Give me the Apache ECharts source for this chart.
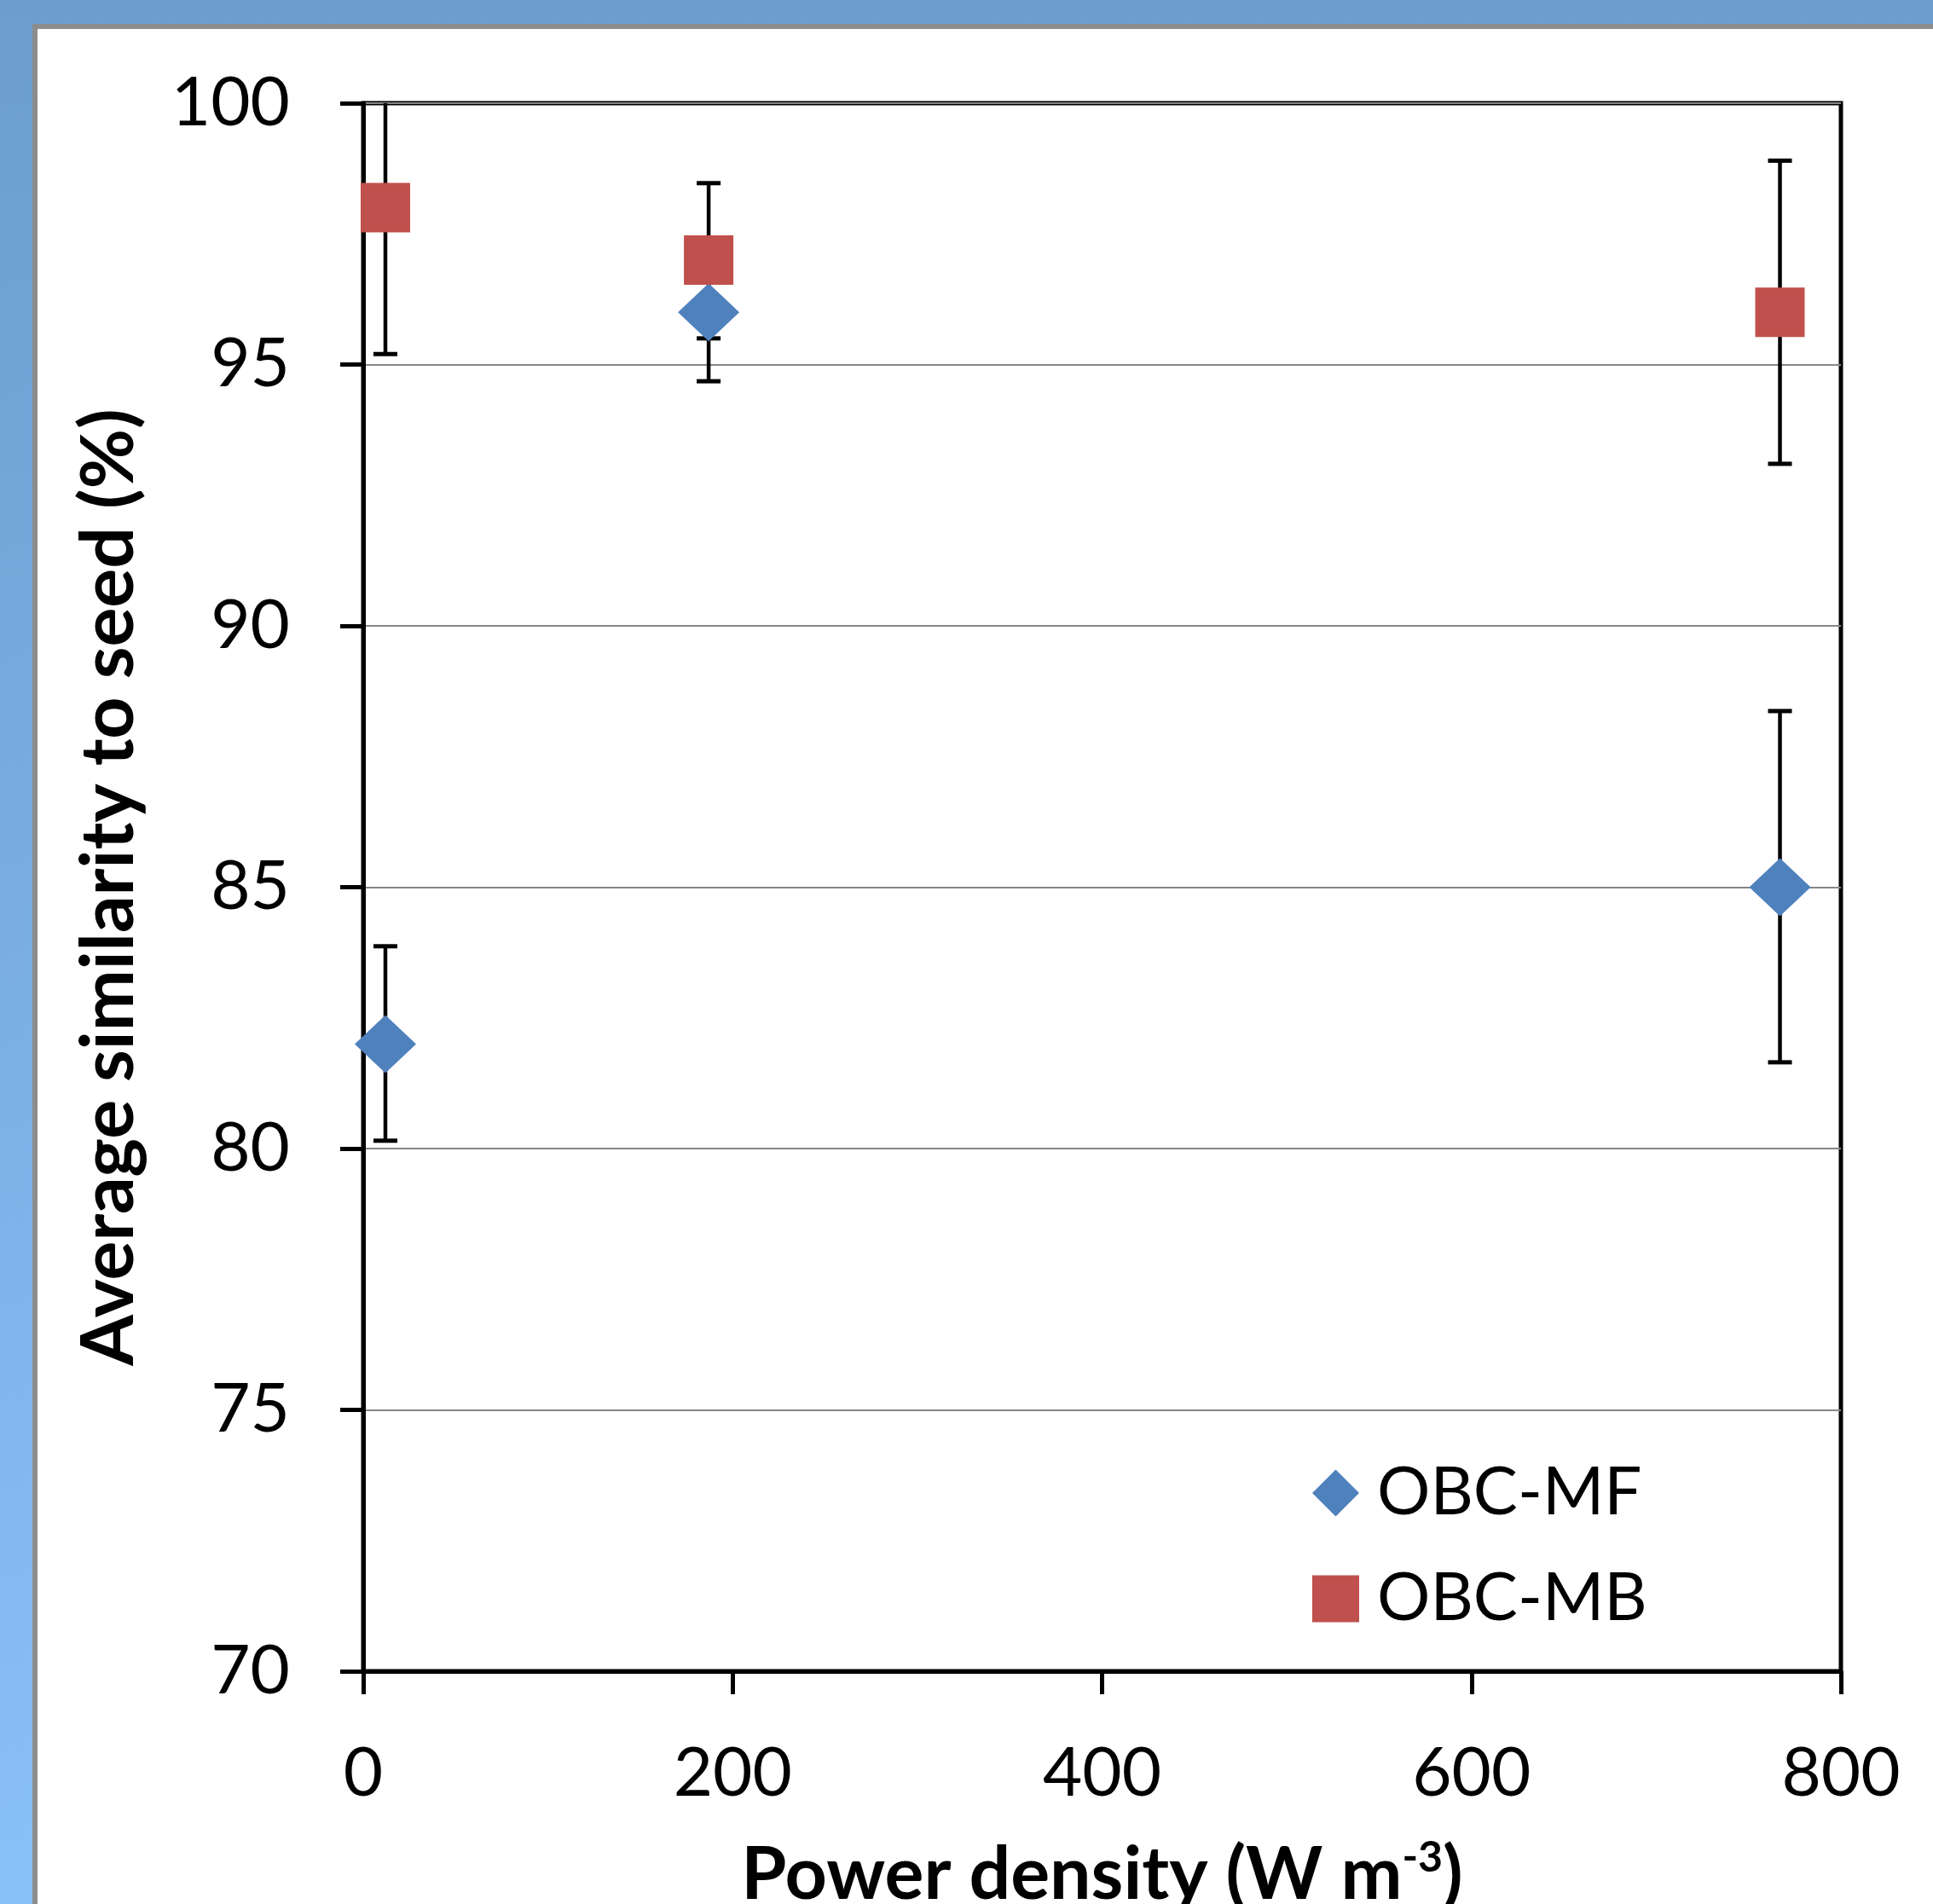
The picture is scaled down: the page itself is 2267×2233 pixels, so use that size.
<!DOCTYPE html>
<html>
<head>
<meta charset="utf-8">
<title>Average similarity to seed</title>
<script src="https://cdn.jsdelivr.net/npm/echarts@6/dist/echarts.min.js"></script>
<style>
    html, body { margin: 0; padding: 0; width: 2267px; height: 2233px; overflow: hidden; }
    body { background: linear-gradient(to bottom, #6c9dce, #88c0f8); position: relative; }
    #panel { position: absolute; left: 38px; top: 28px; width: 2240px; height: 2300px; background: #fff; border: 6px solid #8c8c8c; }
    #chart { position: absolute; left: 0; top: 0; width: 2267px; height: 2233px; }
</style>
</head>
<body>
<div id="panel"></div>
<div id="chart"></div>
<script>
// 横轴：功率密度 (W m-3)
const powerDensity = [12, 187, 767];

// OBC-MF 平均值和误差范围
const mfValues = [82, 96, 85];
const mfLow = [80.15, 94.68, 81.65];
const mfHigh = [83.87, 97.32, 88.37];

// OBC-MB 平均值和误差范围
const mbValues = [98, 97, 96];
const mbLow = [95.2, 95.5, 93.1];
const mbHigh = [100.8, 98.47, 98.9];

const FONT = 'Lato';

// 组合数据
function points(xs, ys) {
    return xs.map((x, i) => [x, ys[i]]);
}
function errorData(xs, lo, hi) {
    return xs.map((x, i) => [x, lo[i], hi[i]]);
}

// 误差线绘制
function renderErrorBar(params, api) {
    const x = api.value(0);
    const lo = api.coord([x, api.value(1)]);
    const hi = api.coord([x, api.value(2)]);
    const half = 14;
    return {
        type: 'group',
        children: [
            { type: 'line', shape: { x1: lo[0], y1: lo[1], x2: hi[0], y2: hi[1] }, style: { stroke: '#000', lineWidth: 4.5 } },
            { type: 'line', shape: { x1: lo[0] - half, y1: lo[1], x2: lo[0] + half, y2: lo[1] }, style: { stroke: '#000', lineWidth: 5 } },
            { type: 'line', shape: { x1: hi[0] - half, y1: hi[1], x2: hi[0] + half, y2: hi[1] }, style: { stroke: '#000', lineWidth: 5 } }
        ]
    };
}

const chart = echarts.init(document.getElementById('chart'));

const option = {
    animation: false,
    textStyle: { fontFamily: FONT },
    grid: {
        left: 426,
        top: 121,
        right: 108,
        bottom: 273,
        outerBoundsMode: 'none',
        show: true,
        borderColor: '#000',
        borderWidth: 5,
        backgroundColor: 'transparent'
    },
    legend: {
        data: ['OBC-MF', 'OBC-MB'],
        orient: 'vertical',
        left: 1534,
        top: 1707,
        itemWidth: 55,
        itemHeight: 55,
        itemGap: 46,
        textStyle: { fontSize: 78, color: '#000', fontFamily: FONT, padding: [0, 0, 0, 16] }
    },
    xAxis: {
        type: 'value',
        min: 0,
        max: 800,
        interval: 200,
        name: '{a|Power density (W m}{s|-3}{a|)}',
        nameLocation: 'middle',
        nameGap: 194,
        nameTextStyle: {
            rich: {
                a: { fontSize: 86, fontWeight: 'bold', color: '#000', fontFamily: FONT, lineHeight: 90 },
                s: { fontSize: 50, fontWeight: 'bold', color: '#000', fontFamily: FONT, verticalAlign: 'top', lineHeight: 90, padding: [0, 0, 30, 0] }
            }
        },
        axisLine: { lineStyle: { color: '#000', width: 5 } },
        axisTick: { show: true, length: 27, lineStyle: { color: '#000', width: 5 } },
        axisLabel: { fontSize: 80, color: '#000', margin: 80 },
        splitLine: { show: false }
    },
    yAxis: {
        type: 'value',
        min: 70,
        max: 100,
        interval: 5,
        name: 'Average similarity to seed (%)',
        nameLocation: 'middle',
        nameRotate: 90,
        nameGap: 255,
        nameTextStyle: { fontSize: 86, fontWeight: 'bold', color: '#000' },
        axisLine: { lineStyle: { color: '#000', width: 5 } },
        axisTick: { show: true, length: 27, lineStyle: { color: '#000', width: 5 } },
        axisLabel: { fontSize: 80, color: '#000', margin: 86 },
        splitLine: { show: true, lineStyle: { color: '#868686', width: 2 } }
    },
    series: [
        {
            name: 'OBC-MF error',
            type: 'custom',
            renderItem: renderErrorBar,
            data: errorData(powerDensity, mfLow, mfHigh),
            clip: true,
            z: 1
        },
        {
            name: 'OBC-MB error',
            type: 'custom',
            renderItem: renderErrorBar,
            data: errorData(powerDensity, mbLow, mbHigh),
            clip: true,
            z: 1
        },
        {
            name: 'OBC-MF',
            type: 'scatter',
            symbol: 'diamond',
            symbolSize: [72, 68],
            itemStyle: { color: '#4f81bd', opacity: 1 },
            data: points(powerDensity, mfValues),
            z: 3
        },
        {
            name: 'OBC-MB',
            type: 'scatter',
            symbol: 'rect',
            symbolSize: 58,
            itemStyle: { color: '#c0504d', opacity: 1 },
            data: points(powerDensity, mbValues),
            z: 4
        }
    ]
};

chart.setOption(option);
</script>
</body>
</html>
